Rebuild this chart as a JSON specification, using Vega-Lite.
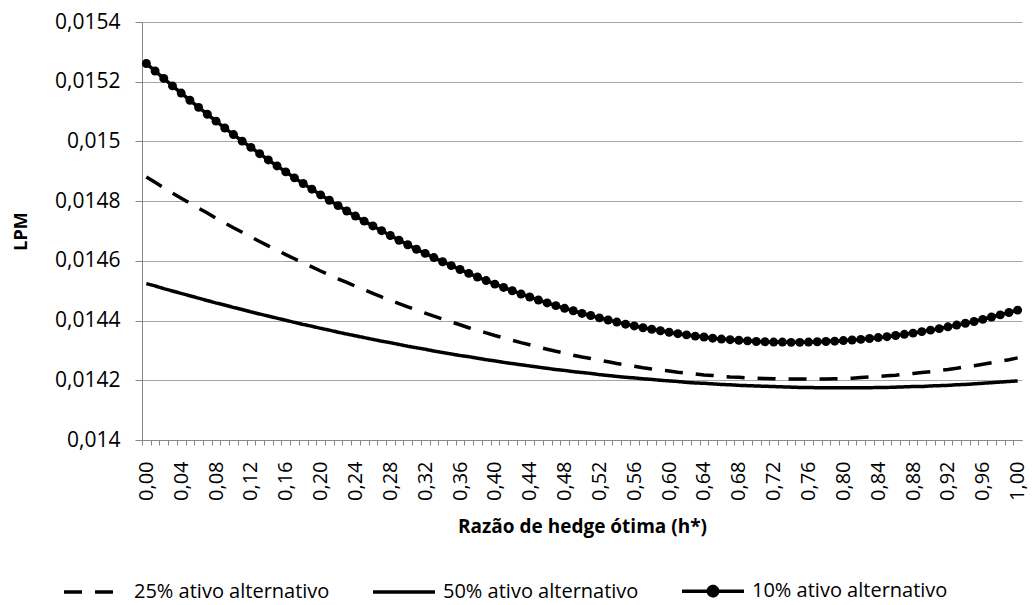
{
  "$schema": "https://vega.github.io/schema/vega-lite/v6.json",
  "width": 880,
  "height": 418,
  "autosize": {"type": "none"},
  "padding": {"left": 142, "top": 22, "right": 10, "bottom": 165},
  "config": {"view": {"stroke": null}, "font": "Open Sans"},
  "data": {"values": [
    {"h":0.00,"10%":0.015261,"25%":0.014881,"50%":0.014524},
    {"h":0.01,"10%":0.015236,"25%":0.014863,"50%":0.014516},
    {"h":0.02,"10%":0.015211,"25%":0.014845,"50%":0.014507},
    {"h":0.03,"10%":0.015186,"25%":0.014827,"50%":0.014499},
    {"h":0.04,"10%":0.015162,"25%":0.014810,"50%":0.014491},
    {"h":0.05,"10%":0.015138,"25%":0.014793,"50%":0.014483},
    {"h":0.06,"10%":0.015114,"25%":0.014776,"50%":0.014475},
    {"h":0.07,"10%":0.015091,"25%":0.014760,"50%":0.014467},
    {"h":0.08,"10%":0.015068,"25%":0.014743,"50%":0.014459},
    {"h":0.09,"10%":0.015045,"25%":0.014727,"50%":0.014452},
    {"h":0.10,"10%":0.015023,"25%":0.014711,"50%":0.014444},
    {"h":0.11,"10%":0.015001,"25%":0.014696,"50%":0.014437},
    {"h":0.12,"10%":0.014980,"25%":0.014680,"50%":0.014429},
    {"h":0.13,"10%":0.014959,"25%":0.014665,"50%":0.014422},
    {"h":0.14,"10%":0.014938,"25%":0.014650,"50%":0.014415},
    {"h":0.15,"10%":0.014918,"25%":0.014636,"50%":0.014408},
    {"h":0.16,"10%":0.014898,"25%":0.014621,"50%":0.014401},
    {"h":0.17,"10%":0.014878,"25%":0.014607,"50%":0.014394},
    {"h":0.18,"10%":0.014859,"25%":0.014593,"50%":0.014387},
    {"h":0.19,"10%":0.014840,"25%":0.014580,"50%":0.014381},
    {"h":0.20,"10%":0.014821,"25%":0.014566,"50%":0.014374},
    {"h":0.21,"10%":0.014803,"25%":0.014553,"50%":0.014368},
    {"h":0.22,"10%":0.014785,"25%":0.014540,"50%":0.014361},
    {"h":0.23,"10%":0.014767,"25%":0.014528,"50%":0.014355},
    {"h":0.24,"10%":0.014750,"25%":0.014515,"50%":0.014349},
    {"h":0.25,"10%":0.014733,"25%":0.014503,"50%":0.014343},
    {"h":0.26,"10%":0.014717,"25%":0.014491,"50%":0.014337},
    {"h":0.27,"10%":0.014701,"25%":0.014479,"50%":0.014331},
    {"h":0.28,"10%":0.014685,"25%":0.014468,"50%":0.014326},
    {"h":0.29,"10%":0.014669,"25%":0.014457,"50%":0.014320},
    {"h":0.30,"10%":0.014654,"25%":0.014446,"50%":0.014314},
    {"h":0.31,"10%":0.014639,"25%":0.014435,"50%":0.014309},
    {"h":0.32,"10%":0.014625,"25%":0.014425,"50%":0.014304},
    {"h":0.33,"10%":0.014611,"25%":0.014415,"50%":0.014298},
    {"h":0.34,"10%":0.014597,"25%":0.014405,"50%":0.014293},
    {"h":0.35,"10%":0.014584,"25%":0.014395,"50%":0.014288},
    {"h":0.36,"10%":0.014571,"25%":0.014386,"50%":0.014283},
    {"h":0.37,"10%":0.014558,"25%":0.014376,"50%":0.014279},
    {"h":0.38,"10%":0.014546,"25%":0.014367,"50%":0.014274},
    {"h":0.39,"10%":0.014534,"25%":0.014359,"50%":0.014269},
    {"h":0.40,"10%":0.014522,"25%":0.014350,"50%":0.014265},
    {"h":0.41,"10%":0.014511,"25%":0.014342,"50%":0.014260},
    {"h":0.42,"10%":0.014500,"25%":0.014334,"50%":0.014256},
    {"h":0.43,"10%":0.014489,"25%":0.014326,"50%":0.014252},
    {"h":0.44,"10%":0.014479,"25%":0.014319,"50%":0.014248},
    {"h":0.45,"10%":0.014469,"25%":0.014311,"50%":0.014244},
    {"h":0.46,"10%":0.014459,"25%":0.014304,"50%":0.014240},
    {"h":0.47,"10%":0.014450,"25%":0.014297,"50%":0.014236},
    {"h":0.48,"10%":0.014441,"25%":0.014291,"50%":0.014233},
    {"h":0.49,"10%":0.014433,"25%":0.014284,"50%":0.014229},
    {"h":0.50,"10%":0.014424,"25%":0.014278,"50%":0.014226},
    {"h":0.51,"10%":0.014417,"25%":0.014273,"50%":0.014223},
    {"h":0.52,"10%":0.014409,"25%":0.014267,"50%":0.014219},
    {"h":0.53,"10%":0.014402,"25%":0.014262,"50%":0.014216},
    {"h":0.54,"10%":0.014395,"25%":0.014256,"50%":0.014213},
    {"h":0.55,"10%":0.014388,"25%":0.014252,"50%":0.014210},
    {"h":0.56,"10%":0.014382,"25%":0.014247,"50%":0.014208},
    {"h":0.57,"10%":0.014376,"25%":0.014242,"50%":0.014205},
    {"h":0.58,"10%":0.014371,"25%":0.014238,"50%":0.014203},
    {"h":0.59,"10%":0.014366,"25%":0.014234,"50%":0.014200},
    {"h":0.60,"10%":0.014361,"25%":0.014231,"50%":0.014198},
    {"h":0.61,"10%":0.014356,"25%":0.014227,"50%":0.014196},
    {"h":0.62,"10%":0.014352,"25%":0.014224,"50%":0.014193},
    {"h":0.63,"10%":0.014348,"25%":0.014221,"50%":0.014191},
    {"h":0.64,"10%":0.014345,"25%":0.014218,"50%":0.014190},
    {"h":0.65,"10%":0.014341,"25%":0.014216,"50%":0.014188},
    {"h":0.66,"10%":0.014338,"25%":0.014213,"50%":0.014186},
    {"h":0.67,"10%":0.014336,"25%":0.014211,"50%":0.014185},
    {"h":0.68,"10%":0.014334,"25%":0.014210,"50%":0.014183},
    {"h":0.69,"10%":0.014332,"25%":0.014208,"50%":0.014182},
    {"h":0.70,"10%":0.014330,"25%":0.014207,"50%":0.014181},
    {"h":0.71,"10%":0.014329,"25%":0.014206,"50%":0.014180},
    {"h":0.72,"10%":0.014328,"25%":0.014205,"50%":0.014179},
    {"h":0.73,"10%":0.014328,"25%":0.014204,"50%":0.014178},
    {"h":0.74,"10%":0.014327,"25%":0.014204,"50%":0.014177},
    {"h":0.75,"10%":0.014327,"25%":0.014204,"50%":0.014176},
    {"h":0.76,"10%":0.014328,"25%":0.014204,"50%":0.014176},
    {"h":0.77,"10%":0.014329,"25%":0.014204,"50%":0.014175},
    {"h":0.78,"10%":0.014330,"25%":0.014204,"50%":0.014175},
    {"h":0.79,"10%":0.014331,"25%":0.014205,"50%":0.014175},
    {"h":0.80,"10%":0.014333,"25%":0.014206,"50%":0.014175},
    {"h":0.81,"10%":0.014335,"25%":0.014207,"50%":0.014175},
    {"h":0.82,"10%":0.014337,"25%":0.014209,"50%":0.014175},
    {"h":0.83,"10%":0.014340,"25%":0.014211,"50%":0.014175},
    {"h":0.84,"10%":0.014343,"25%":0.014213,"50%":0.014176},
    {"h":0.85,"10%":0.014346,"25%":0.014215,"50%":0.014176},
    {"h":0.86,"10%":0.014350,"25%":0.014217,"50%":0.014177},
    {"h":0.87,"10%":0.014354,"25%":0.014220,"50%":0.014178},
    {"h":0.88,"10%":0.014358,"25%":0.014223,"50%":0.014179},
    {"h":0.89,"10%":0.014363,"25%":0.014226,"50%":0.014179},
    {"h":0.90,"10%":0.014368,"25%":0.014229,"50%":0.014181},
    {"h":0.91,"10%":0.014373,"25%":0.014233,"50%":0.014182},
    {"h":0.92,"10%":0.014379,"25%":0.014236,"50%":0.014183},
    {"h":0.93,"10%":0.014385,"25%":0.014240,"50%":0.014185},
    {"h":0.94,"10%":0.014391,"25%":0.014245,"50%":0.014186},
    {"h":0.95,"10%":0.014397,"25%":0.014249,"50%":0.014188},
    {"h":0.96,"10%":0.014404,"25%":0.014254,"50%":0.014190},
    {"h":0.97,"10%":0.014412,"25%":0.014259,"50%":0.014192},
    {"h":0.98,"10%":0.014419,"25%":0.014264,"50%":0.014194},
    {"h":0.99,"10%":0.014427,"25%":0.014269,"50%":0.014196},
    {"h":1.00,"10%":0.014435,"25%":0.014275,"50%":0.014198}
  ]},
  "transform": [{"fold": ["25%", "50%", "10%"], "as": ["serie", "v"]}],
  "encoding": {
    "x": {
      "field": "h", "type": "quantitative",
      "scale": {"domain": [-0.005, 1.005], "nice": false, "zero": false},
      "axis": {
        "values": [0,0.01,0.02,0.03,0.04,0.05,0.06,0.07,0.08,0.09,0.1,0.11,0.12,0.13,0.14,0.15,0.16,0.17,0.18,0.19,0.2,0.21,0.22,0.23,0.24,0.25,0.26,0.27,0.28,0.29,0.3,0.31,0.32,0.33,0.34,0.35,0.36,0.37,0.38,0.39,0.4,0.41,0.42,0.43,0.44,0.45,0.46,0.47,0.48,0.49,0.5,0.51,0.52,0.53,0.54,0.55,0.56,0.57,0.58,0.59,0.6,0.61,0.62,0.63,0.64,0.65,0.66,0.67,0.68,0.69,0.7,0.71,0.72,0.73,0.74,0.75,0.76,0.77,0.78,0.79,0.8,0.81,0.82,0.83,0.84,0.85,0.86,0.87,0.88,0.89,0.9,0.91,0.92,0.93,0.94,0.95,0.96,0.97,0.98,0.99,1],
        "labelExpr": "round(datum.value*100) % 4 === 0 ? replace(format(datum.value, '.2f'), '.', ',') : ''",
        "labelAngle": -90,
        "labelFontSize": 20,
        "labelColor": "#000000",
        "labelPadding": 16,
        "labelOverlap": false,
        "labelFlush": false,
        "labelBound": false,
        "tickSize": 5,
        "tickOffset": -4.356,
        "labelOffset": 4.356,
        "tickColor": "#888888",
        "domainColor": "#888888",
        "grid": false,
        "title": "Razão de hedge ótima (h*)",
        "titleFontSize": 19,
        "titleFontWeight": "bold",
        "titleColor": "#000000",
        "titlePadding": 17
      }
    },
    "y": {
      "field": "v", "type": "quantitative",
      "scale": {"domain": [0.014, 0.0154], "nice": false, "zero": false},
      "axis": {
        "values": [0.014, 0.0142, 0.0144, 0.0146, 0.0148, 0.015, 0.0152, 0.0154],
        "labelExpr": "replace(format(datum.value, '.4~f'), '.', ',')",
        "labelFontSize": 21,
        "labelColor": "#000000",
        "labelPadding": 15,
        "tickSize": 7,
        "tickColor": "#888888",
        "domainColor": "#888888",
        "grid": true,
        "gridColor": "#a6a6a6",
        "title": "LPM",
        "titleFontSize": 18,
        "titleFontWeight": "bold",
        "titleColor": "#000000",
        "titlePadding": 24
      }
    }
  },
  "layer": [
    {
      "mark": {"type": "line", "color": "black", "strokeWidth": 3.5, "strokeCap": "butt"},
      "encoding": {
        "strokeDash": {
          "field": "serie", "type": "nominal",
          "scale": {"domain": ["25%", "50%", "10%"], "range": [[18, 13], [1, 0], [1, 0]]},
          "legend": {
            "orient": "none",
            "legendX": -80,
            "legendY": 536,
            "direction": "horizontal",
            "title": null,
            "padding": 0,
            "symbolSize": 3844,
            "symbolStrokeWidth": 3.5,
            "symbolStrokeColor": "black",
            "labelFontSize": 20,
            "labelLimit": 400,
            "labelColor": "#000000",
            "labelOffset": 6,
            "columnPadding": 36,
            "labelExpr": "datum.label + ' ativo alternativo'",
            "symbolType": "M-1,0L1,0",
            "encode": {
              "symbols": {
                "update": {
                  "shape": {"signal": "datum.value === '10%' ? 'M-1,0L1,0M-0.15,0A0.15,0.15 0 1,0 0.15,0A0.15,0.15 0 1,0 -0.15,0' : 'M-1,0L1,0'"},
                  "fill": {"value": "black"},
                  "stroke": {"value": "black"},
                  "strokeWidth": {"value": 3.5},
                  "opacity": {"value": 1}
                }
              }
            }
          }
        }
      }
    },
    {
      "transform": [{"filter": "datum.serie === '10%'"}],
      "mark": {"type": "point", "filled": true, "color": "black", "size": 80, "opacity": 1}
    }
  ]
}
